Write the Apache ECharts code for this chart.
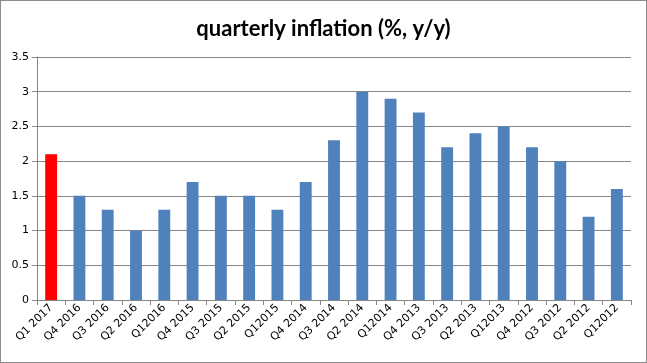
<!DOCTYPE html>
<html><head><meta charset="utf-8">
<script src="https://cdn.jsdelivr.net/npm/echarts@6/dist/echarts.min.js"></script>
<style>html,body{margin:0;padding:0;background:#fff}#c{width:647px;height:363px;box-sizing:border-box;border:1px solid #8c8c8c}</style>
</head><body><div id="c"></div>
<script>
const categories = ["Q1 2017","Q4 2016","Q3 2016","Q2 2016","Q12016","Q4 2015","Q3 2015","Q2 2015","Q12015","Q4 2014","Q3 2014","Q2 2014","Q12014","Q4 2013","Q3 2013","Q2 2013","Q12013","Q4 2012","Q3 2012","Q2 2012","Q12012"];
const values = [2.1,1.5,1.3,1.0,1.3,1.7,1.5,1.5,1.3,1.7,2.3,3.0,2.9,2.7,2.2,2.4,2.5,2.2,2.0,1.2,1.6];
const highlightIndex = 0;
const chart = echarts.init(document.getElementById('c'), null, {renderer:'canvas'});
chart.setOption({
  animation:false,
  title:{text:'quarterly inflation (%, y/y)', left:'center', top:12,
    textStyle:{fontFamily:'Lato', fontWeight:'bold', fontSize:22, color:'#000'}},
  grid:{left:36, right:15, top:56, bottom:62, containLabel:false},
  xAxis:{type:'category', data:categories,
    axisLine:{lineStyle:{color:'#868686'}},
    axisTick:{show:true, length:5, lineStyle:{color:'#868686'}},
    axisLabel:{rotate:45, interval:0, fontFamily:'DejaVu Sans', fontSize:11, color:'#000', margin:6}},
  yAxis:{type:'value', min:0, max:3.5, interval:0.5,
    axisLine:{show:true, lineStyle:{color:'#868686'}},
    axisTick:{show:true, length:5, lineStyle:{color:'#868686'}},
    splitLine:{lineStyle:{color:'#868686'}},
    axisLabel:{fontFamily:'DejaVu Sans', fontSize:11, color:'#000', margin:8}},
  series:[{type:'bar', barWidth:'42%',
    data:values.map((v,i)=>({value:v, itemStyle:{color: i===highlightIndex ? '#ff0000' : '#4f81bd'}}))}]
});
</script></body></html>
